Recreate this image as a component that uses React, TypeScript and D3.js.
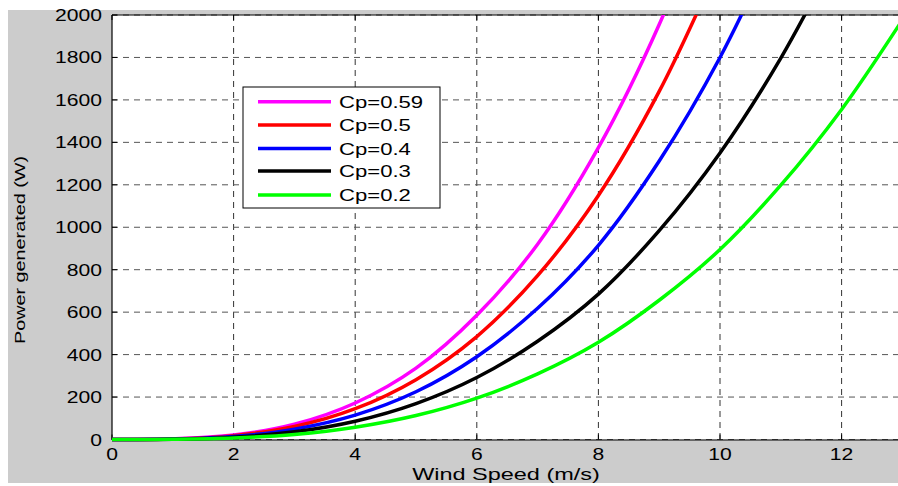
import React from "react";
import * as d3 from "d3";

const windSpeed = [0, 1, 2, 3, 4, 5, 6, 7, 8, 9, 10, 11, 12, 13];
const cp059 = [0, 3, 21, 72, 172, 336, 585, 920, 1375, 1955, 2680];
const cp05 = [0, 2, 18, 61, 145, 282, 485, 772, 1150, 1640, 2250];
const cp04 = [0, 2, 14, 49, 115, 225, 390, 618, 915, 1312, 1800, 2396];
const cp03 = [0, 1, 11, 36, 86, 169, 292, 463, 685, 984, 1350, 1797, 2333];
const cp02 = [0, 1, 7, 24, 58, 113, 195, 309, 458, 656, 895, 1198, 1555, 1977];

const seriesNames = ["Cp=0.59", "Cp=0.5", "Cp=0.4", "Cp=0.3", "Cp=0.2"];
const seriesValues = [cp059, cp05, cp04, cp03, cp02];
const seriesColors = ["#ff00ff", "#ff0000", "#0000ff", "#000000", "#00ff00"];

const xTicks = [0, 2, 4, 6, 8, 10, 12];
const yTicks = [0, 200, 400, 600, 800, 1000, 1200, 1400, 1600, 1800, 2000];

const W = 898;
const H = 486;
const FONT = "'Liberation Sans', Arial, Helvetica, sans-serif";

const left = 112;
const top = 15;
const bottom = 439.5;
const right = 898;

const x = d3.scaleLinear().domain([0, 13]).range([left, left + 13 * 60.8]);
const y = d3.scaleLinear().domain([0, 2000]).range([bottom, top]);

function SText(props: {
  x: number;
  y: number;
  sx?: number;
  size: number;
  anchor?: string;
  children: React.ReactNode;
}) {
  const sx = props.sx ?? 1.32;
  return (
    <g transform={`translate(${props.x},${props.y}) scale(${sx},1)`}>
      <text
        x={0}
        y={0}
        fontSize={props.size}
        fontFamily={FONT}
        textAnchor={props.anchor ?? "start"}
        fill="#000"
      >
        {props.children}
      </text>
    </g>
  );
}

export default function App() {
  const line = d3
    .line<[number, number]>()
    .x((d) => x(d[0]))
    .y((d) => y(d[1]))
    .curve(d3.curveCatmullRom);

  const legX = 243;
  const legY = 87;
  const legW = 197;
  const legH = 121;
  const rowY = [101.7, 125, 148.5, 171, 195];

  return (
    <svg
      width={W}
      height={H}
      style={{ position: "absolute", left: 0, top: 0, background: "#fff" }}
    >
      <defs>
        <clipPath id="plotClip">
          <rect x={left} y={top} width={right - left} height={bottom - top + 3} />
        </clipPath>
      </defs>
      <rect x={8} y={10} width={W - 8} height={473} fill="#cccccc" />
      <rect x={left} y={top} width={right - left} height={bottom - top} fill="#fff" />

      {/* grid */}
      {xTicks.slice(1).map((t) => (
        <line
          key={"gx" + t}
          x1={x(t)}
          x2={x(t)}
          y1={top}
          y2={bottom}
          stroke="#333"
          strokeWidth={1}
          strokeDasharray="6,5"
        />
      ))}
      {yTicks.map((t) => (
        <line
          key={"gy" + t}
          x1={left}
          x2={right}
          y1={y(t)}
          y2={y(t)}
          stroke="#555"
          strokeWidth={1}
          strokeDasharray="6,5"
        />
      ))}

      {/* axes */}
      <line x1={left} x2={right} y1={top} y2={top} stroke="#000" strokeWidth={1.2} />
      <line x1={left} x2={right} y1={bottom + 0.5} y2={bottom + 0.5} stroke="#000" strokeWidth={1.2} />
      <line x1={left} x2={left} y1={top} y2={bottom + 0.5} stroke="#000" strokeWidth={1.2} />
      {xTicks.map((t) => (
        <g key={"tx" + t}>
          <line x1={x(t)} x2={x(t)} y1={bottom} y2={bottom - 5} stroke="#000" />
          <line x1={x(t)} x2={x(t)} y1={top} y2={top + 5} stroke="#000" />
        </g>
      ))}
      {yTicks.map((t) => (
        <line key={"ty" + t} x1={left} x2={left + 5} y1={y(t)} y2={y(t)} stroke="#000" />
      ))}

      {/* curves */}
      <g clipPath="url(#plotClip)">
        {seriesValues.map((vals, i) => (
          <path
            key={seriesNames[i]}
            d={line(vals.map((v, j) => [windSpeed[j], v] as [number, number])) || ""}
            fill="none"
            stroke={seriesColors[i]}
            strokeWidth={3.5}
            strokeLinejoin="round"
          />
        ))}
      </g>

      {/* tick labels */}
      {yTicks.map((t) => (
        <SText key={"ly" + t} x={102} y={y(t) + 6} size={16} anchor="end">
          {t}
        </SText>
      ))}
      {xTicks.map((t) => (
        <SText key={"lx" + t} x={x(t)} y={460} size={16} anchor="middle">
          {t}
        </SText>
      ))}

      {/* axis labels */}
      <SText x={506} y={480} size={17} anchor="middle" sx={1.38}>
        Wind Speed (m/s)
      </SText>
      <g transform="translate(25,250) rotate(-90)">
        <text
          x={0}
          y={0}
          fontSize={14}
          fontFamily={FONT}
          textAnchor="middle"
          textLength={188}
          lengthAdjust="spacingAndGlyphs"
        >
          Power generated (W)
        </text>
      </g>

      {/* legend */}
      <rect x={legX} y={legY} width={legW} height={legH} fill="#fff" stroke="#000" strokeWidth={1} />
      {seriesNames.map((n, i) => (
        <g key={"leg" + n}>
          <line x1={258} x2={331} y1={rowY[i]} y2={rowY[i]} stroke={seriesColors[i]} strokeWidth={3.5} />
          <SText x={339} y={rowY[i] + 6} size={17} sx={1.3}>
            {n}
          </SText>
        </g>
      ))}
    </svg>
  );
}
